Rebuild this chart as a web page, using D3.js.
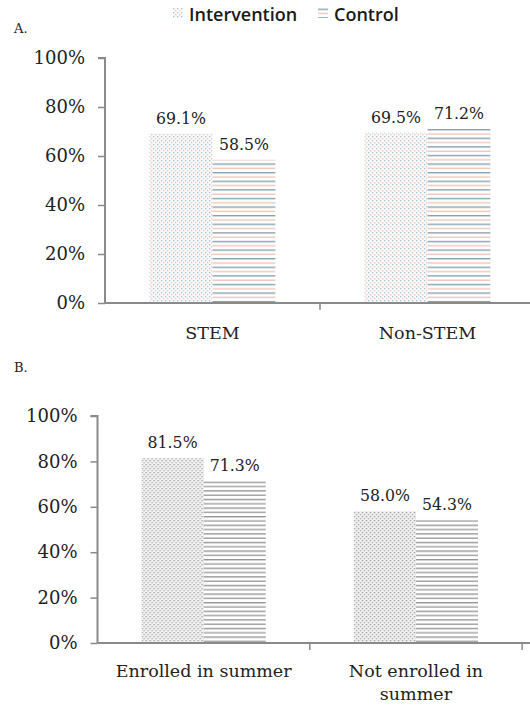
<!DOCTYPE html>
<html>
<head>
<meta charset="utf-8">
<script src="https://cdn.jsdelivr.net/npm/d3@7"></script>
<style>
  html, body { margin: 0; padding: 0; background: #fff; }
  svg { display: block; }
</style>
</head>
<body>
<svg id="chart" width="530" height="707"></svg>
<script>
// Panel A: graduation by major type
const categoriesA = ["STEM", "Non-STEM"];
const interventionA = [69.1, 69.5];
const controlA = [58.5, 71.2];

// Panel B: graduation by summer enrollment
const categoriesB = ["Enrolled in summer", "Not enrolled in summer"];
const interventionB = [81.5, 58.0];
const controlB = [71.3, 54.3];

const seriesNames = ["Intervention", "Control"];
const yTicks = [0, 20, 40, 60, 80, 100];

const svg = d3.select("#chart");
const defs = svg.append("defs");

// Fill patterns: dots for Intervention, horizontal stripes for Control
function dotPattern(id, c1, c2, bg) {
  const p = defs.append("pattern").attr("id", id)
    .attr("patternUnits", "userSpaceOnUse").attr("width", 4).attr("height", 4);
  p.append("rect").attr("width", 4).attr("height", 4).attr("fill", bg);
  p.append("rect").attr("x", 0).attr("y", 0).attr("width", 1.3).attr("height", 1.3).attr("fill", c1);
  p.append("rect").attr("x", 2).attr("y", 2).attr("width", 1.3).attr("height", 1.3).attr("fill", c2);
}
function stripePattern(id, c1, c2, bg, h) {
  const p = defs.append("pattern").attr("id", id)
    .attr("patternUnits", "userSpaceOnUse").attr("width", 8).attr("height", h);
  p.append("rect").attr("width", 8).attr("height", h).attr("fill", bg);
  p.append("rect").attr("x", 0).attr("y", 0).attr("width", 8).attr("height", 1.4).attr("fill", c1);
  p.append("rect").attr("x", 0).attr("y", h / 2).attr("width", 8).attr("height", 1.4).attr("fill", c2);
}
dotPattern("dotsA", "#9cc6da", "#f0c6b6", "#fbf8f7");
stripePattern("stripesA", "#86a3b2", "#efc7b8", "#ffffff", 8.6);
dotPattern("dotsB", "#9a9a9a", "#a8a8a8", "#f2f2f2");
stripePattern("stripesB", "#969696", "#a0a0a0", "#ffffff", 8.6);

const serifFont = "DejaVu Serif, serif";
const textColor = "#222222";
const axisColor = "#8a8a8a";

function drawPanel(cfg) {
  const g = svg.append("g");
  const x = d3.scaleBand().domain(cfg.categories).range([cfg.x0, cfg.x0 + cfg.step * cfg.categories.length]);
  const inner = d3.scaleBand().domain(seriesNames).range([0, x.bandwidth()]).paddingOuter(0.71).paddingInner(0);
  const y = d3.scaleLinear().domain([0, 100]).range([cfg.yBottom, cfg.yTop]);

  const rows = cfg.categories.map((c, i) => ({
    cat: c,
    vals: [
      { s: "Intervention", v: cfg.intervention[i], fill: cfg.fills[0] },
      { s: "Control", v: cfg.control[i], fill: cfg.fills[1] }
    ]
  }));

  const groups = g.selectAll("g.cat").data(rows).join("g")
    .attr("class", "cat")
    .attr("transform", d => `translate(${x(d.cat)},0)`);

  groups.selectAll("rect").data(d => d.vals).join("rect")
    .attr("x", d => inner(d.s))
    .attr("y", d => y(d.v))
    .attr("width", inner.bandwidth())
    .attr("height", d => y(0) - y(d.v))
    .attr("fill", d => `url(#${d.fill})`);

  groups.selectAll("text.val").data(d => d.vals).join("text")
    .attr("class", "val")
    .attr("x", d => inner(d.s) + inner.bandwidth() / 2)
    .attr("y", d => y(d.v) - 10)
    .attr("text-anchor", "middle")
    .attr("font-family", "DejaVu Serif Condensed, DejaVu Serif, serif")
    .attr("font-stretch", "condensed")
    .attr("font-size", 17.5)
    .attr("fill", textColor)
    .text(d => d.v.toFixed(1) + "%");

  // y axis
  const yAxis = g.append("g")
    .attr("transform", `translate(${cfg.x0},0)`)
    .call(d3.axisLeft(y).tickValues(yTicks).tickSize(7).tickPadding(13).tickFormat(d => d + "%"));
  yAxis.select(".domain").attr("stroke", axisColor).attr("stroke-width", 2)
    .attr("d", `M-7,${cfg.yTop}H0V${cfg.yBottom}`);
  yAxis.selectAll(".tick line").attr("stroke", axisColor).attr("stroke-width", 1.5);
  yAxis.selectAll(".tick text")
    .attr("font-family", serifFont).attr("font-size", 18).attr("fill", textColor);

  // x axis with boundary ticks
  const xAxis = g.append("g").attr("transform", `translate(0,${cfg.yBottom})`);
  xAxis.append("line")
    .attr("x1", cfg.x0).attr("x2", 540).attr("y1", 0).attr("y2", 0)
    .attr("stroke", axisColor).attr("stroke-width", 2);
  const bounds = d3.range(cfg.categories.length + 1).map(i => cfg.x0 + i * x.step());
  xAxis.selectAll("line.b").data(bounds.slice(1)).join("line")
    .attr("class", "b")
    .attr("x1", d => d).attr("x2", d => d).attr("y1", 0).attr("y2", 7)
    .attr("stroke", axisColor).attr("stroke-width", 1.5);

  // category labels, wrapped when wider than the band allows
  const labels = xAxis.selectAll("text.cat").data(cfg.categories).join("text")
    .attr("class", "cat")
    .attr("x", d => x(d) + x.bandwidth() / 2)
    .attr("y", cfg.labelDy)
    .attr("text-anchor", "middle")
    .attr("font-family", serifFont)
    .attr("font-size", 17.5)
    .attr("fill", textColor);
  labels.each(function (d) {
    const t = d3.select(this);
    const words = d.split(" ");
    let line = [];
    let tspan = t.append("tspan").attr("x", x(d) + x.bandwidth() / 2).attr("dy", 0);
    words.forEach(w => {
      line.push(w);
      tspan.text(line.join(" "));
      if (tspan.node().getComputedTextLength() > 190 && line.length > 1) {
        line.pop();
        tspan.text(line.join(" "));
        line = [w];
        tspan = t.append("tspan").attr("x", x(d) + x.bandwidth() / 2).attr("dy", 23).text(w);
      }
    });
  });

  // panel letter
  svg.append("text")
    .attr("x", cfg.letterX).attr("y", cfg.letterY)
    .attr("font-family", serifFont).attr("font-size", 13)
    .attr("fill", textColor)
    .text(cfg.letter);
}

drawPanel({
  categories: categoriesA, intervention: interventionA, control: controlA,
  x0: 105, step: 215, yTop: 58, yBottom: 303, labelDy: 36,
  fills: ["dotsA", "stripesA"], letter: "A.", letterX: 14, letterY: 33
});

drawPanel({
  categories: categoriesB, intervention: interventionB, control: controlB,
  x0: 97.5, step: 212.3, yTop: 416, yBottom: 643, labelDy: 34,
  fills: ["dotsB", "stripesB"], letter: "B.", letterX: 14, letterY: 372
});

// legend
const legend = svg.append("g");
const legendItems = [
  { name: seriesNames[0], fill: "dotsA", x: 173 },
  { name: seriesNames[1], fill: "stripesA", x: 318 }
];
const li = legend.selectAll("g").data(legendItems).join("g")
  .attr("transform", d => `translate(${d.x},0)`);
li.append("rect").attr("x", 0).attr("y", 8).attr("width", 10).attr("height", 10)
  .attr("fill", d => `url(#${d.fill})`);
li.append("text").attr("x", 16).attr("y", 21)
  .attr("font-family", "Open Sans, sans-serif").attr("font-size", 18)
  .attr("font-weight", 600)
  .attr("fill", "#1a1a1a")
  .text(d => d.name);
</script>
</body>
</html>
